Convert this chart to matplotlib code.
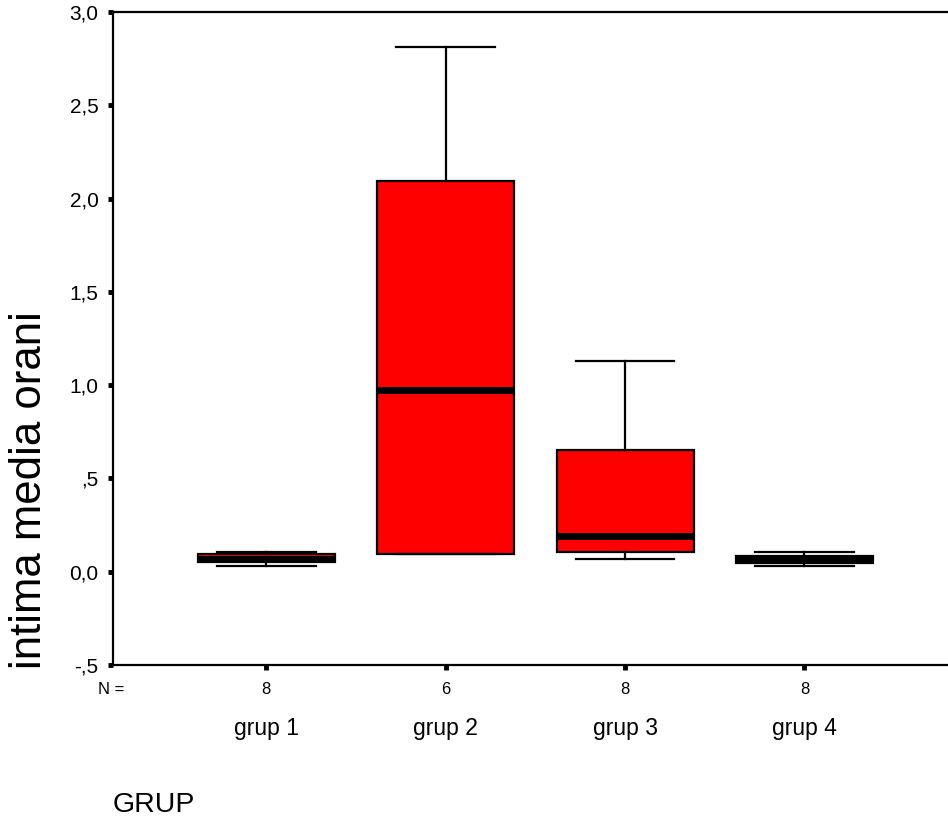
import matplotlib
matplotlib.use("Agg")
import matplotlib.pyplot as plt
import matplotlib.transforms as mtransforms

plt.rcParams['font.family'] = ['Liberation Sans', 'DejaVu Sans']

# values (five-number summaries per group)
groups = ["grup 1", "grup 2", "grup 3", "grup 4"]
n_counts = [8, 6, 8, 8]
whis_lo = [0.028, 0.096, 0.070, 0.028]
q1 = [0.050, 0.096, 0.107, 0.048]
medians = [0.070, 0.972, 0.190, 0.067]
q3 = [0.094, 2.094, 0.653, 0.086]
whis_hi = [0.104, 2.810, 1.130, 0.103]

y_ticks = [-0.5, 0.0, 0.5, 1.0, 1.5, 2.0, 2.5, 3.0]
y_tick_labels = ["-,5", "0,0", ",5", "1,0", "1,5", "2,0", "2,5", "3,0"]

stats = []
for i in range(len(groups)):
    stats.append({
        "label": str(n_counts[i]),
        "whislo": whis_lo[i], "q1": q1[i], "med": medians[i],
        "q3": q3[i], "whishi": whis_hi[i], "fliers": [],
    })

fig = plt.figure(figsize=(9.48, 8.27), dpi=100)
ax = fig.add_axes([113 / 948, 1 - 665 / 827, 1 - 113 / 948, (665 - 12) / 827])

positions = list(range(1, len(groups) + 1))
ax.bxp(stats, positions=positions, widths=0.765, capwidths=0.55,
       patch_artist=True, showfliers=False,
       boxprops=dict(facecolor="#ff0000", edgecolor="black", linewidth=1.6),
       medianprops=dict(color="black", linewidth=5, solid_capstyle="butt"),
       whiskerprops=dict(color="black", linewidth=1.6),
       capprops=dict(color="black", linewidth=1.6))

ax.set_xlim(0.145, 4.80)
ax.set_ylim(-0.5, 3.0)
ax.set_yticks(y_ticks)
ax.set_yticklabels(y_tick_labels)
ax.set_xticks(positions)
ax.set_xticklabels([str(n) for n in n_counts])

ax.spines["right"].set_visible(False)
for s in ["left", "bottom", "top"]:
    ax.spines[s].set_linewidth(1.6)
ax.tick_params(axis="y", direction="out", length=3.5, width=3.5, pad=7, labelsize=15)
ax.tick_params(axis="x", direction="out", length=3.5, width=3.5, pad=9, labelsize=12)

# y label sits lower than the axes centre in the reference
fig.text(30 / 948, 1 - 490 / 827, "intima media orani", rotation=90,
         ha="center", va="center", fontsize=31.5)

trans = mtransforms.blended_transform_factory(ax.transData, fig.transFigure)
for pos, name in zip(positions, groups):
    ax.text(pos, 1 - 729 / 827, name, transform=trans, ha="center", va="center",
            fontsize=16.5)
ax.text(98 / 948, 1 - 689 / 827, "N =", transform=fig.transFigure,
        ha="left", va="center", fontsize=12)
fig.text(113 / 948, 1 - 805 / 827, "GRUP", ha="left", va="center", fontsize=20.5)

fig.savefig("out.png", dpi=100)
